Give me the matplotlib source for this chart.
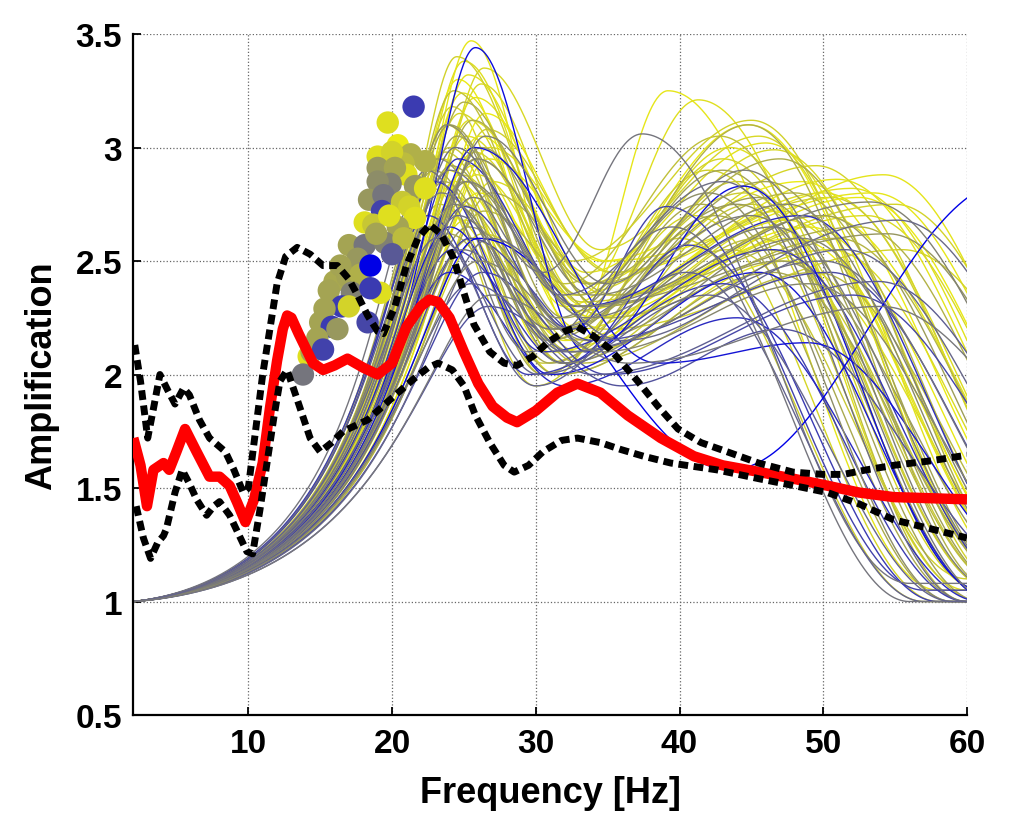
import numpy as np
import matplotlib
matplotlib.use('Agg')
from matplotlib import pyplot as plt

''' Data read off the reference figure '''

# mean amplification (thick red)
red_f = [2.0, 2.5, 2.95, 3.4, 4.1, 4.5, 5.0, 5.6, 6.4, 7.3, 8.0, 8.7, 9.2, 9.8, 10.4, 11.0, 11.5, 12.0,
         12.4, 12.7, 13.0, 13.5, 14.5, 15.2, 16.0, 16.9, 18.0, 19.0, 20.0, 21.0, 22.0, 22.6, 23.2, 24.0,
         25.0, 26.0, 27.0, 28.0, 28.7, 30.0, 31.5, 32.9, 34.5, 36.4, 38.7, 41.0, 43.0, 45.6, 48.0, 50.3,
         52.5, 54.9, 57.5, 60.0]
red_a = [1.72, 1.60, 1.42, 1.58, 1.61, 1.58, 1.66, 1.76, 1.66, 1.55, 1.55, 1.51, 1.44, 1.35, 1.45, 1.61,
         1.85, 2.06, 2.20, 2.26, 2.25, 2.18, 2.05, 2.02, 2.04, 2.07, 2.03, 2.00, 2.05, 2.21, 2.30, 2.33,
         2.32, 2.25, 2.10, 1.96, 1.86, 1.81, 1.79, 1.84, 1.92, 1.96, 1.92, 1.82, 1.72, 1.64, 1.60, 1.57,
         1.54, 1.51, 1.48, 1.46, 1.455, 1.45]

# mean +/- std (black dashed)
up_f = [2.1, 2.5, 3.0, 3.4, 3.85, 4.4, 4.9, 5.5, 5.9, 6.6, 7.3, 8.4, 9.0, 9.65, 10.0, 10.5, 11.0, 11.5,
        12.0, 12.6, 13.4, 14.3, 15.2, 16.2, 17.0, 17.6, 18.3, 19.0, 19.4, 20.2, 21.0, 21.8, 22.6, 23.4,
        24.3, 25.0, 25.7, 26.8, 27.8, 28.7, 29.8, 30.8, 32.0, 32.9, 34.0, 35.2, 37.1, 38.5, 39.9, 41.5,
        43.3, 45.5, 47.9, 50.0, 51.4, 53.0, 54.9, 57.5, 60.0]
up_a = [2.13, 1.97, 1.72, 1.85, 2.00, 1.93, 1.87, 1.94, 1.91, 1.80, 1.72, 1.66, 1.58, 1.48, 1.50, 1.75,
        2.00, 2.20, 2.40, 2.52, 2.56, 2.53, 2.48, 2.48, 2.42, 2.35, 2.26, 2.19, 2.18, 2.30, 2.48, 2.60,
        2.66, 2.62, 2.51, 2.36, 2.22, 2.10, 2.05, 2.04, 2.08, 2.14, 2.19, 2.21, 2.17, 2.11, 1.97, 1.86,
        1.76, 1.70, 1.66, 1.61, 1.57, 1.56, 1.56, 1.58, 1.60, 1.62, 1.645]
lo_f = [2.2, 2.7, 3.2, 3.7, 4.1, 4.3, 4.9, 5.4, 5.9, 6.4, 7.1, 7.6, 8.0, 8.7, 9.3, 9.9, 10.3, 10.8,
        11.3, 11.8, 12.2, 12.7, 13.4, 14.3, 15.0, 15.8, 16.6, 18.3, 19.7, 21.5, 22.5, 23.2, 24.2, 25.0,
        25.8, 26.8, 27.8, 28.5, 29.5, 30.5, 31.8, 32.9, 34.5, 35.9, 37.5, 39.4, 42.6, 45.6, 48.0, 50.3,
        52.5, 54.9, 57.5, 60.0]
lo_a = [1.42, 1.28, 1.19, 1.26, 1.29, 1.32, 1.48, 1.58, 1.52, 1.45, 1.38, 1.42, 1.44, 1.38, 1.30, 1.22,
        1.21, 1.40, 1.61, 1.82, 1.97, 2.02, 1.89, 1.72, 1.66, 1.70, 1.75, 1.80, 1.88, 1.98, 2.03, 2.05,
        2.02, 1.95, 1.82, 1.70, 1.60, 1.57, 1.60, 1.66, 1.71, 1.72, 1.70, 1.67, 1.64, 1.61, 1.58, 1.54,
        1.51, 1.48, 1.43, 1.36, 1.32, 1.28]

# peak markers: frequency, amplification, colour value (0 yellow .. 1 blue)
pt_f = [21.5, 19.7, 20.4, 19.0, 21.3, 22.3, 20.8, 20.0, 21.0, 19.0, 20.2, 19.9, 19.0, 21.6, 22.3, 18.4,
        19.4, 20.7, 21.2, 19.3, 18.1, 21.6, 20.4, 18.7, 19.8, 17.0, 18.1, 19.5, 20.8, 20.0, 17.6, 18.9,
        16.0, 16.9, 16.4, 17.8, 18.5, 19.2, 17.2, 18.5, 15.6, 16.5, 15.3, 17.0, 15.0, 15.8, 18.3, 16.2,
        14.8, 14.2, 14.4, 15.2, 13.8]
pt_a = [3.18, 3.11, 3.01, 2.96, 2.97, 2.94, 2.93, 2.98, 2.88, 2.91, 2.91, 2.84, 2.85, 2.83, 2.82, 2.77,
        2.79, 2.76, 2.74, 2.72, 2.67, 2.69, 2.65, 2.66, 2.70, 2.57, 2.57, 2.58, 2.60, 2.53, 2.51, 2.62,
        2.41, 2.43, 2.48, 2.44, 2.48, 2.36, 2.36, 2.38, 2.37, 2.30, 2.29, 2.30, 2.23, 2.21, 2.23, 2.20,
        2.16, 2.08, 2.10, 2.11, 2.00]
pt_c = [0.75, 0.05, 0.00, 0.05, 0.25, 0.25, 0.20, 0.10, 0.05, 0.35, 0.30, 0.45, 0.40, 0.35, 0.05, 0.35,
        0.50, 0.15, 0.10, 0.72, 0.05, 0.05, 0.30, 0.15, 0.05, 0.30, 0.50, 0.45, 0.20, 0.62, 0.35, 0.30,
        0.28, 0.30, 0.30, 0.25, 1.00, 0.05, 0.45, 0.75, 0.30, 0.75, 0.30, 0.10, 0.30, 0.75, 0.70, 0.35,
        0.30, 0.05, 0.30, 0.72, 0.50]

# simulated transfer functions: colour, 1st peak (f,A), trough (f,A), 2nd peak (f,A), next trough (f,A)
cv_c  = [0.02, 0.05, 0.00, 0.08, 0.03, 0.10, 0.12, 0.00, 0.06, 0.15, 0.04, 0.09, 0.02, 0.13, 0.07,
         0.11, 0.01, 0.14, 0.05, 0.08, 0.03, 0.10, 0.00, 0.12, 0.06,
         0.04, 0.09, 0.01, 0.13, 0.06, 0.18, 0.02, 0.15, 0.07, 0.11, 0.03, 0.10,
         0.25, 0.30, 0.22, 0.28, 0.33, 0.20, 0.35, 0.27, 0.24, 0.31, 0.21, 0.34,
         0.26, 0.32, 0.23, 0.29, 0.36,
         0.50, 0.45, 0.55, 0.48, 0.42, 0.58, 0.52, 0.46, 0.40, 0.60, 0.44, 0.56, 0.50,
         0.47, 0.53, 0.43, 0.57, 0.49,
         0.72, 0.75, 0.78, 0.70, 0.80, 0.74, 0.68, 0.82, 0.65,
         0.95, 0.92, 1.00, 0.90]
cv_f1 = [25.5, 25.0, 24.6, 26.2, 25.8, 24.2, 23.8, 26.5, 25.2, 24.0, 26.8, 23.5, 25.6, 24.8, 27.0,
         22.8, 26.0, 24.4, 25.4, 26.4, 24.9, 25.7, 23.9, 26.6, 24.1,
         25.3, 24.7, 26.1, 23.7, 25.9, 24.3, 26.7, 23.3, 25.1, 24.5, 24.4, 26.3,
         25.0, 24.5, 25.8, 23.6, 26.2, 24.7, 25.3, 22.9, 26.9, 24.0, 25.5, 23.2,
         25.6, 24.1, 26.4, 23.9, 25.0,
         24.0, 25.2, 24.6, 23.4, 25.9, 22.6, 24.9, 26.5, 23.8, 25.5, 24.3, 26.8, 22.4,
         25.6, 24.4, 26.0, 23.1, 26.9,
         25.0, 24.2, 23.0, 26.3, 24.6, 22.5, 25.4, 24.0, 26.7,
         25.8, 25.7, 26.0, 24.0]
cv_a1 = [3.47, 3.38, 3.30, 3.28, 3.22, 3.18, 3.10, 3.15, 3.05, 3.00, 3.00, 2.95, 2.92, 2.88, 2.85,
         2.82, 2.80, 2.78, 3.12, 3.35, 3.24, 2.98, 2.90, 3.08, 2.70,
         3.32, 3.15, 3.05, 2.98, 2.88, 3.25, 2.95, 2.75, 2.68, 3.40, 2.85, 2.62,
         3.20, 3.05, 2.95, 2.85, 3.00, 2.75, 2.65, 2.90, 2.80, 3.10, 2.60, 2.95,
         3.12, 2.92, 2.72, 2.62, 2.85,
         2.90, 2.85, 2.70, 2.80, 2.95, 2.65, 2.55, 3.05, 3.10, 2.40, 2.75, 2.60, 2.90,
         2.78, 3.00, 2.50, 2.60, 2.35,
         2.74, 2.55, 2.85, 2.45, 2.95, 2.70, 2.60, 2.45, 2.30,
         3.44, 3.00, 2.60, 2.65]
cv_ft = [32.5, 33.0, 32.0, 34.0, 35.0, 31.5, 31.0, 34.5, 33.5, 31.8, 35.5, 30.5, 33.0, 32.5, 35.0,
         30.0, 34.0, 32.0, 33.8, 34.5, 32.8, 33.2, 31.0, 35.2, 31.5,
         33.5, 32.5, 34.5, 31.0, 34.0, 32.0, 35.0, 30.5, 33.0, 32.5, 32.0, 34.8,
         33.0, 32.0, 34.0, 31.0, 34.5, 32.5, 33.5, 30.5, 35.5, 31.8, 33.0, 30.8,
         33.5, 31.5, 35.0, 31.5, 32.8,
         30.5, 33.0, 32.0, 31.0, 34.0, 30.0, 32.5, 35.0, 31.5, 34.0, 31.8, 36.0, 29.5,
         33.5, 31.8, 34.5, 30.2, 36.5,
         32.5, 32.0, 30.5, 35.0, 33.0, 29.5, 34.0, 32.0, 36.0,
         33.5, 38.5, 43.5, 31.0]
cv_at = [2.20, 2.35, 2.30, 2.40, 2.25, 2.10, 2.15, 2.50, 2.30, 2.05, 2.45, 2.00, 2.20, 2.15, 2.35,
         1.95, 2.25, 2.05, 2.40, 2.55, 2.28, 2.32, 2.10, 2.45, 2.00,
         2.45, 2.35, 2.30, 2.20, 2.25, 2.40, 2.50, 2.05, 2.10, 2.50, 2.15, 2.20,
         2.35, 2.25, 2.40, 2.05, 2.30, 2.10, 2.15, 2.00, 2.35, 2.20, 2.05, 2.15,
         2.40, 2.20, 2.25, 2.00, 2.30,
         2.45, 2.30, 2.10, 2.20, 2.35, 1.95, 2.10, 2.40, 2.25, 2.00, 2.05, 2.15, 2.10,
         2.25, 2.35, 2.10, 2.00, 2.05,
         2.20, 2.05, 2.10, 2.00, 2.30, 2.00, 2.15, 1.95, 1.95,
         2.10, 2.05, 1.58, 2.00]
cv_f2 = [39.2, 41.3, 44.8, 46.6, 54.2, 43.0, 42.0, 48.5, 50.0, 45.0, 52.0, 41.0, 47.0, 44.0, 53.0,
         40.0, 49.0, 46.0, 43.5, 45.5, 51.0, 55.0, 48.0, 50.5, 47.5,
         46.0, 49.5, 52.5, 44.5, 47.5, 42.8, 53.5, 43.5, 50.5, 45.0, 50.0, 55.5,
         44.8, 43.0, 48.0, 42.5, 50.0, 45.5, 47.0, 41.5, 52.5, 46.0, 49.5, 44.0,
         47.0, 45.5, 51.0, 46.5, 54.5,
         37.4, 53.3, 55.2, 45.0, 47.5, 40.5, 50.0, 44.5, 42.0, 53.8, 48.5, 51.5, 39.5,
         46.5, 43.0, 49.0, 42.0, 54.0,
         39.1, 40.6, 46.5, 52.0, 48.5, 43.0, 50.5, 44.0, 47.0,
         44.4, 48.9, 63.0, 45.5]
cv_a2 = [3.25, 3.21, 3.10, 2.99, 2.88, 2.95, 2.90, 2.85, 2.80, 2.75, 2.82, 2.70, 2.72, 2.85, 2.70,
         2.60, 2.65, 2.55, 3.00, 3.05, 2.86, 2.75, 2.60, 2.78, 2.50,
         3.02, 2.92, 2.78, 2.80, 2.68, 3.05, 2.80, 2.55, 2.55, 3.12, 2.70, 2.55,
         3.10, 2.90, 2.80, 2.70, 2.70, 2.60, 2.50, 2.75, 2.65, 2.85, 2.45, 2.75,
         2.95, 2.78, 2.60, 2.45, 2.62,
         3.06, 2.76, 2.68, 2.70, 2.75, 2.45, 2.50, 2.90, 2.80, 2.41, 2.60, 2.55, 2.65,
         2.65, 2.85, 2.40, 2.35, 2.30,
         2.74, 2.57, 2.55, 2.35, 2.70, 2.40, 2.45, 2.25, 2.20,
         2.83, 2.14, 2.85, 2.45]
cv_fe = [58, 60, 63, 65, 72, 61, 60, 67, 69, 63, 70, 58, 65, 62, 71,
         57, 67, 64, 61, 63, 70, 73, 66, 68, 66,
         64, 68, 71, 62, 65, 60, 72, 61, 68, 63, 69, 74,
         62, 61, 66, 60, 68, 63, 65, 59, 70, 64, 67, 62,
         65, 63, 69, 64, 73,
         56, 72, 74, 62, 65, 57, 68, 62, 59, 72, 66, 70, 56,
         64, 60, 67, 59, 73,
         57, 58, 64, 70, 66, 60, 68, 61, 65,
         61, 66, 80, 62]
cv_ae = [1.05, 1.05, 1.10, 1.15, 1.20, 1.05, 1.10, 1.20, 1.15, 1.05, 1.20, 1.00, 1.10, 1.05, 1.20,
         1.00, 1.10, 1.05, 1.05, 1.10, 1.20, 1.20, 1.10, 1.15, 1.10,
         1.10, 1.15, 1.20, 1.05, 1.10, 1.00, 1.20, 1.00, 1.15, 1.05, 1.20, 1.30,
         1.05, 1.00, 1.10, 1.00, 1.15, 1.05, 1.10, 1.00, 1.15, 1.05, 1.10, 1.00,
         1.10, 1.05, 1.15, 1.05, 1.20,
         1.08, 1.20, 1.20, 1.00, 1.10, 1.00, 1.10, 1.05, 1.00, 1.20, 1.10, 1.20, 1.00,
         1.05, 1.00, 1.10, 1.00, 1.30,
         1.05, 1.00, 1.05, 1.20, 1.10, 1.00, 1.10, 1.00, 1.10,
         1.05, 1.10, 1.00, 1.00]


def yellow_blue(c):
    # yellow -> grey -> blue
    return (0.92 * (1 - c), 0.92 * (1 - c), 0.08 * (1 - c) + 0.9 * c)


def transfer_curve(f, f1, a1, ft, at, f2, a2, fe, ae):
    y = np.full_like(f, ae)
    # rise to the first peak with a single resonance shape
    zeta = 1.0 / (2 * a1)
    rp = np.sqrt(1 - 2 * zeta**2)
    g = lambda r: 1 / np.sqrt((1 - r**2)**2 + (2 * zeta * r)**2)
    r = rp * f / f1
    g0, gp = g(rp * f[0] / f1), g(rp)
    m = f <= f1
    y[m] = 1 + (a1 - 1) * (g(r[m]) - g0) / (gp - g0)
    # smooth segments between the read extrema
    knots = [(f1, a1), (ft, at), (f2, a2), (fe, ae)]
    for (x0, y0), (x1, y1) in zip(knots[:-1], knots[1:]):
        m = (f > x0) & (f <= x1)
        t = (f[m] - x0) / (x1 - x0)
        y[m] = y0 + (y1 - y0) * (1 - np.cos(np.pi * t)) / 2
    return y


''' Plot '''
plt.rcParams['font.family'] = ['Liberation Sans', 'DejaVu Sans']
plt.rcParams['font.weight'] = 'bold'

fig = plt.figure(figsize=(10.24, 8.2), dpi=100)
ax = fig.add_axes([0.1302, 0.1268, 0.8141, 0.8305])

# draw order: yellow, then blue, then grey on top (as in the source figure)
n = len(cv_c)
order = [i for i in range(n) if cv_c[i] < 0.4] + \
        [i for i in range(n) if cv_c[i] >= 0.65] + \
        [i for i in range(n) if 0.4 <= cv_c[i] < 0.65]

freq = np.linspace(2, 60, 700)
for i in order:
    amp = transfer_curve(freq, cv_f1[i], cv_a1[i], cv_ft[i], cv_at[i],
                         cv_f2[i], cv_a2[i], cv_fe[i], cv_ae[i])
    ax.plot(freq, amp, color=yellow_blue(cv_c[i]), lw=1.0, zorder=2)

ax.scatter(pt_f, pt_a, s=260, c=[yellow_blue(c) for c in pt_c], edgecolors='none', zorder=3)

ax.plot(red_f, red_a, color='red', lw=7.5, solid_joinstyle='round', solid_capstyle='butt', zorder=4)
for ff, aa in [(up_f, up_a), (lo_f, lo_a)]:
    ax.plot(ff, aa, color='black', lw=5, linestyle=(0, (1.4, 0.8)),
            dash_capstyle='butt', zorder=5)

ax.set_xlim(2, 60)
ax.set_ylim(0.5, 3.5)
yt = [0.5, 1, 1.5, 2, 2.5, 3, 3.5]
ax.set_xticks([10, 20, 30, 40, 50, 60])
ax.set_yticks(yt)
ax.set_yticklabels(['%g' % v for v in yt])
ax.grid(True, linestyle=':', color='0.4', lw=0.9)
ax.set_axisbelow(True)
ax.spines['top'].set_visible(False)
ax.spines['right'].set_visible(False)
ax.spines['left'].set_linewidth(1.6)
ax.spines['bottom'].set_linewidth(1.6)
ax.tick_params(direction='in', length=6, width=1.3, labelsize=24)
ax.tick_params(axis='x', pad=9)
ax.tick_params(axis='y', pad=8)
ax.set_xlabel('Frequency [Hz]', fontsize=26, fontweight='bold', labelpad=12)
ax.set_ylabel('Amplification', fontsize=26, fontweight='bold', labelpad=12)

plt.savefig('out.png', dpi=100)
